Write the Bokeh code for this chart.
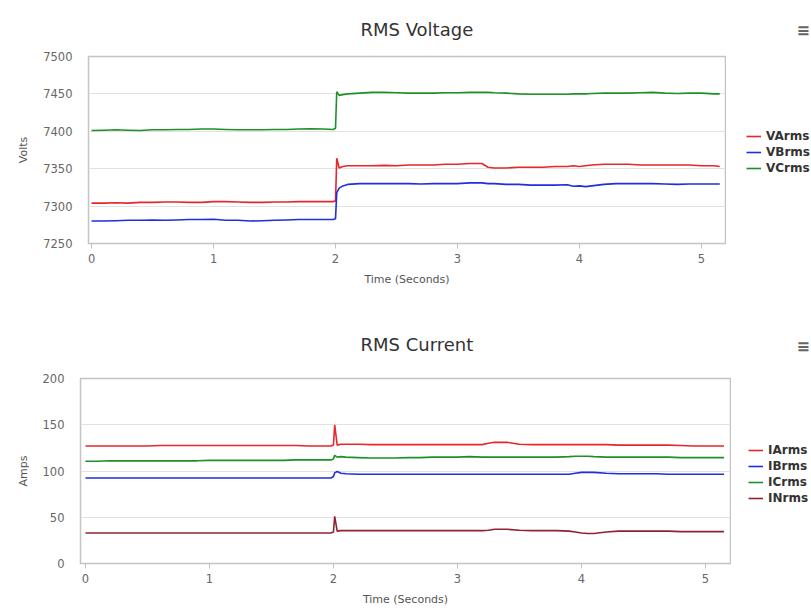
from bokeh.plotting import figure
from bokeh.layouts import column, row
from bokeh.models import (Range1d, FixedTicker, Legend, LegendItem, Title,
                          ColumnDataSource)
from bokeh.embed import file_html
from bokeh.resources import INLINE

# ---------------- data ----------------
time_s = [0, 0.1, 0.2, 0.3, 0.4, 0.5, 0.6, 0.7, 0.8, 0.9,
          1.0, 1.1, 1.2, 1.3, 1.4, 1.5, 1.6, 1.7, 1.8, 1.9,
          1.98, 2.0, 2.01, 2.03, 2.06, 2.1, 2.2, 2.3, 2.4, 2.5,
          2.6, 2.7, 2.8, 2.9, 3.0, 3.1, 3.2, 3.25, 3.3, 3.4,
          3.5, 3.6, 3.7, 3.8, 3.9, 3.95, 4.0, 4.05, 4.1, 4.2,
          4.3, 4.4, 4.5, 4.6, 4.7, 4.8, 4.9, 5.0, 5.1, 5.15]

VArms = [7304, 7304, 7304.5, 7304, 7305, 7305, 7305.5, 7305.5, 7305, 7305,
         7306, 7306, 7305.5, 7305, 7305, 7305.5, 7305.5, 7306, 7306, 7306,
         7306, 7307, 7364, 7351, 7353, 7354, 7354, 7354, 7354.5, 7354,
         7355, 7355, 7355, 7356, 7356, 7357, 7357, 7352, 7351, 7351,
         7352, 7352, 7352, 7353, 7353, 7354, 7353, 7354, 7355, 7356,
         7356, 7356, 7355, 7355, 7355, 7355, 7355, 7354, 7354, 7353]

VBrms = [7280, 7280, 7280.5, 7281, 7281, 7281.5, 7281, 7281.5, 7282, 7282,
         7282.5, 7281, 7281, 7280, 7280.5, 7281, 7281.5, 7282, 7282, 7282,
         7282, 7283, 7318, 7324, 7327, 7329, 7330, 7330, 7330, 7330,
         7330, 7329.5, 7330, 7330, 7330, 7331, 7331, 7330, 7330, 7329,
         7329, 7328, 7328, 7328, 7328.5, 7326.5, 7327, 7326, 7327, 7329,
         7330, 7330, 7330, 7330, 7329.5, 7329, 7329.5, 7329.5, 7329.5, 7329.5]

VCrms = [7401, 7401.5, 7402, 7401.5, 7401, 7402, 7402, 7402.5, 7402.5, 7403,
         7403, 7402.5, 7402, 7402, 7402, 7402.5, 7402.5, 7403, 7403.5, 7403,
         7402.5, 7404, 7453, 7448, 7449, 7450, 7451, 7452, 7452, 7451.5,
         7451, 7451, 7451, 7451.5, 7451.5, 7452, 7452, 7452, 7451.5, 7451,
         7450, 7449.5, 7449.5, 7449.5, 7449.5, 7450, 7450, 7450, 7450.5, 7451,
         7451, 7451, 7451.5, 7452, 7451, 7450.5, 7451, 7451, 7450, 7450]

IArms = [127, 127, 127, 127, 127, 127, 127.5, 127.5, 127.5, 127.5,
         127.5, 127.5, 127.5, 127.5, 127.5, 127.5, 127.5, 127.5, 127, 127,
         127, 128, 150, 128, 129, 129, 129, 128.5, 128.5, 128.5,
         128.5, 128.5, 128.5, 128.5, 128.5, 128.5, 128.5, 130, 131, 131,
         129, 128.5, 128.5, 128.5, 128.5, 128.5, 128.5, 128.5, 128.5, 128.5,
         128, 128, 128, 128, 128, 127.5, 127, 127, 127, 127]

IBrms = [92.5, 92.5, 92.5, 92.5, 92.5, 92.5, 92.5, 92.5, 92.5, 92.5,
         92.5, 92.5, 92.5, 92.5, 92.5, 92.5, 92.5, 92.5, 92.5, 92.5,
         92.5, 94, 98, 99.5, 97.5, 97, 96.5, 96.5, 96.5, 96.5,
         96.5, 96.5, 96.5, 96.5, 96.5, 96.5, 96.5, 96.5, 96.5, 96.5,
         96.5, 96.5, 96.5, 96.5, 96.5, 97.5, 98.5, 98.5, 98.5, 97.5,
         97, 97, 97, 97, 96.5, 96.5, 96.5, 96.5, 96.5, 96.5]

ICrms = [110.5, 110.5, 111, 111, 111, 111, 111, 111, 111, 111,
         111.5, 111.5, 111.5, 111.5, 111.5, 111.5, 111.5, 112, 112, 112,
         112, 113, 117, 115, 115.5, 115, 114.5, 114, 114, 114,
         114.5, 114.5, 115, 115, 115, 115.5, 115, 115, 115, 115,
         115, 115, 115, 115, 115.5, 116, 116, 116, 115.5, 115,
         115, 115, 115, 115, 115, 114.5, 114.5, 114.5, 114.5, 114.5]

INrms = [33, 33, 33, 33, 33, 33, 33, 33, 33, 33,
         33, 33, 33, 33, 33, 33, 33, 33, 33, 33,
         33, 34, 51, 35, 35.5, 35.5, 35.5, 35.5, 35.5, 35.5,
         35.5, 35.5, 35.5, 35.5, 35.5, 35.5, 35.5, 36, 37, 37,
         36, 35.5, 35.5, 35.5, 35, 34, 33, 32.5, 32.5, 34,
         35, 35, 35, 35, 35, 34.5, 34.5, 34.5, 34.5, 34.5]

voltage_ticks = [7250, 7300, 7350, 7400, 7450, 7500]
current_ticks = [0, 50, 100, 150, 200]
time_ticks = [0, 1, 2, 3, 4, 5]

voltage_series = [("VArms", VArms, "#e8262b"), ("VBrms", VBrms, "#1f2ee0"),
                  ("VCrms", VCrms, "#1f8f2a")]
current_series = [("IArms", IArms, "#e8262b"), ("IBrms", IBrms, "#1f2ee0"),
                  ("ICrms", ICrms, "#1f8f2a"), ("INrms", INrms, "#8f2430")]

FONT = "DejaVu Sans"
H = 306


def make_chart(title, title_offset, title_standoff, ylabel, series, yticks,
               xr, yr, borders, chart_w, legend_xy, menu_offset,
               menu_standoff):
    left, top, bottom = borders
    p = figure(width=chart_w, height=H, output_backend="svg",
               toolbar_location=None, x_range=Range1d(*xr),
               y_range=Range1d(*yr), min_border_left=left,
               min_border_right=1, min_border_top=top,
               min_border_bottom=bottom)
    p.title = Title(text=title, align="left", text_font=FONT,
                    text_font_size="18px", text_font_style="normal",
                    text_color="#333333", offset=title_offset,
                    standoff=title_standoff)
    p.background_fill_color = "white"
    p.border_fill_color = "white"
    p.outline_line_color = "#c4c4c4"
    p.outline_line_width = 1.5

    p.xaxis.ticker = FixedTicker(ticks=time_ticks)
    p.yaxis.ticker = FixedTicker(ticks=yticks)
    p.xgrid.visible = False
    p.ygrid.grid_line_color = "#e2e2e2"
    p.ygrid.grid_line_width = 1

    for ax in (p.xaxis, p.yaxis):
        ax.axis_line_color = None
        ax.minor_tick_line_color = None
        ax.major_label_text_font = FONT
        ax.major_label_text_font_size = "11.5px"
        ax.major_label_text_color = "#666666"
        ax.axis_label_text_font = FONT
        ax.axis_label_text_font_size = "11px"
        ax.axis_label_text_font_style = "normal"
        ax.axis_label_text_color = "#555555"

    p.xaxis.axis_label = "Time (Seconds)"
    p.xaxis.major_tick_line_color = "#c0c0c0"
    p.xaxis.major_tick_out = 5
    p.xaxis.major_tick_in = 0
    p.xaxis.major_label_standoff = 5
    p.xaxis.axis_label_standoff = 7

    p.yaxis.axis_label = ylabel
    p.yaxis.major_tick_line_color = None
    p.yaxis.major_tick_out = 0
    p.yaxis.major_tick_in = 0
    p.yaxis.major_label_standoff = 16
    p.yaxis.axis_label_standoff = 10

    for name, vals, color in series:
        src = ColumnDataSource(dict(t=time_s, v=vals))
        p.line("t", "v", source=src, line_color=color, line_width=1.6)

    # side panel holding the legend (series drawn outside its empty range)
    lw = 811 - chart_w
    q = figure(width=lw, height=H, output_backend="svg",
               toolbar_location=None, x_range=Range1d(-100, -99),
               y_range=Range1d(-100, -99), x_axis_location=None,
               y_axis_location=None, min_border=0)
    q.outline_line_color = None
    q.grid.visible = False
    q.background_fill_color = "white"
    q.border_fill_color = "white"
    q.title = Title(text="\u2261", align="left", text_font=FONT,
                    text_font_size="16px", text_font_style="bold",
                    text_color="#666666", offset=menu_offset,
                    standoff=menu_standoff)
    items = []
    for name, vals, color in series:
        src = ColumnDataSource(dict(t=time_s, v=vals))
        r = q.line("t", "v", source=src, line_color=color, line_width=1.6)
        items.append(LegendItem(label=name, renderers=[r]))
    legend = Legend(items=items, location=legend_xy, orientation="vertical",
                    label_text_font=FONT, label_text_font_size="12px",
                    label_text_font_style="bold", label_text_color="#333333",
                    glyph_width=15, glyph_height=16, label_height=16,
                    label_standoff=5, spacing=0, padding=0, margin=0,
                    border_line_color=None, background_fill_alpha=0)
    q.add_layout(legend)
    return row(p, q, spacing=0)


top_chart = make_chart("RMS Voltage", 272, 33, "Volts", voltage_series,
                       voltage_ticks, (-0.025, 5.197), (7250, 7500),
                       (88, 56, 63), 726, (20, 67), 70, 33)
bottom_chart = make_chart("RMS Current", 280, 48, "Amps", current_series,
                          current_ticks, (-0.04, 5.202), (0, 200),
                          (80, 72, 49), 731, (17, 57), 65, 46)

layout = column(top_chart, bottom_chart, spacing=0)
open("out.html", "w").write(file_html(layout, INLINE))
